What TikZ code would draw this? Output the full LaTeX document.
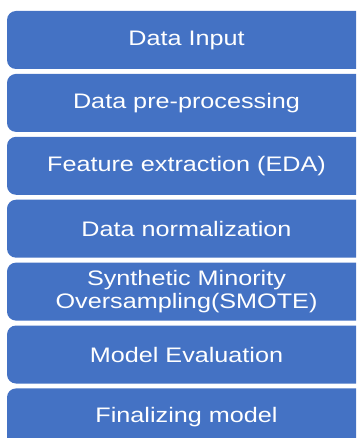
\documentclass[tikz,border=0pt]{standalone}
\usepackage{fontspec}
\setmainfont{Liberation Sans}
\newfontfamily\boxfont[FakeStretch=1.2]{Liberation Sans}
\usetikzlibrary{positioning}
\definecolor{stepblue}{HTML}{4472C4}
\tikzset{stepbox/.style={fill=stepblue, rounded corners=9pt, minimum width=359pt, minimum height=58pt, inner sep=0pt, text=white, align=center, font=\boxfont\fontsize{21}{23}\selectfont}}

\begin{document}
\begin{tikzpicture}[x=1pt,y=1pt,node distance=4.5pt]
\useasboundingbox (0,0) rectangle (356,-438);
\clip (0,0) rectangle (356,-438);

%Boxes
\node[stepbox] (input) at (186.5,-40) {Data Input};
\node[stepbox, below=of input] (prep) {Data pre-processing};
\node[stepbox, below=of prep] (eda) {Feature extraction (EDA)};
\node[stepbox, below=of eda] (norm) {Data normalization};
\node[stepbox, below=of norm] (smote) {Synthetic Minority\\Oversampling(SMOTE)};
\node[stepbox, below=of smote] (eval) {Model Evaluation};
\node[stepbox, below=of eval] (final) {Finalizing model};

\end{tikzpicture}
\end{document}
